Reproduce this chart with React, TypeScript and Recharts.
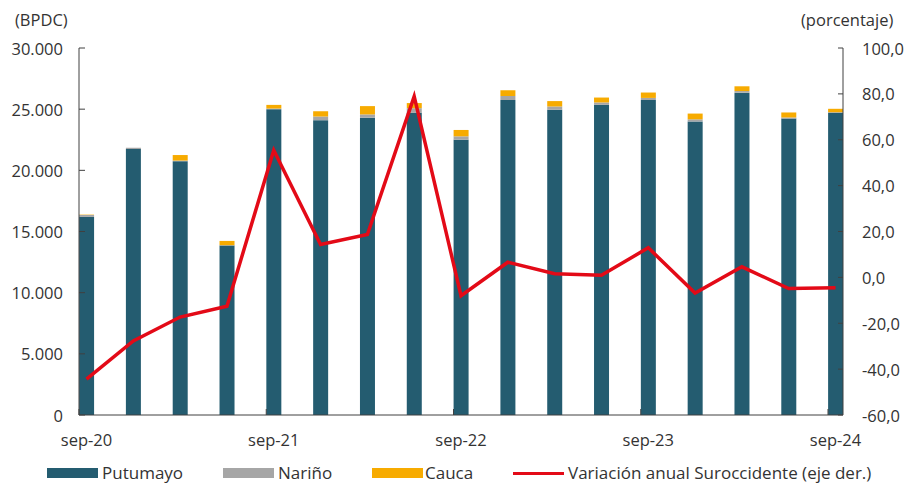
import { ComposedChart, Bar, Line, XAxis, YAxis } from "recharts"

const quarters = [
  "sep-20", "dic-20", "mar-21", "jun-21", "sep-21", "dic-21", "mar-22", "jun-22", "sep-22",
  "dic-22", "mar-23", "jun-23", "sep-23", "dic-23", "mar-24", "jun-24", "sep-24",
]
const putumayo = [16200, 21750, 20750, 13850, 25000, 24100, 24300, 24700, 22500, 25750, 24950, 25350, 25750, 24000, 26350, 24230, 24700]
const narino = [150, 100, 50, 30, 50, 300, 270, 380, 280, 320, 270, 200, 170, 170, 130, 90, 50]
const cauca = [30, 0, 450, 350, 300, 430, 680, 420, 520, 480, 440, 400, 440, 470, 390, 410, 280]
const variacion = [-44.4, -27.7, -17.3, -12.6, 55.4, 14.3, 18.7, 78.9, -8.0, 6.6, 1.6, 0.9, 12.9, -6.8, 4.6, -4.9, -4.5]

const leftTicks = [0, 5000, 10000, 15000, 20000, 25000, 30000]
const rightTicks = [-60, -40, -20, 0, 20, 40, 60, 80, 100]
const yearTicks = [0, 4, 8, 12, 16]

const data = quarters.map((q, i) => ({
  idx: i,
  q,
  putumayo: putumayo[i],
  narino: narino[i],
  cauca: cauca[i],
  variacion: variacion[i],
}))

const FONT = "'Open Sans', sans-serif"
const TEXT = "#333"
const AXIS = "#404040"
const FS = 16.5
const PLOT_LEFT = 79
const PLOT_RIGHT = 843
const PLOT_BOTTOM = 415

const colors = {
  putumayo: "#245C70",
  narino: "#A6A6A6",
  cauca: "#F7AB00",
  line: "#E30A17",
}

const fmtLeft = (v: number) => v.toLocaleString("de-DE")
const fmtRight = (v: number) => v.toFixed(1).replace(".", ",")

const LeftTick = ({ y, payload }: any) => (
  <g>
    <line x1={PLOT_LEFT} x2={PLOT_LEFT + 6} y1={y} y2={y} stroke={AXIS} />
    <text x={63} y={y} textAnchor="end" dominantBaseline="central" fill={TEXT} fontSize={FS} fontFamily={FONT}>
      {fmtLeft(payload.value)}
    </text>
  </g>
)

const RightTick = ({ y, payload }: any) => (
  <g>
    <line x1={PLOT_RIGHT - 5} x2={PLOT_RIGHT} y1={y} y2={y} stroke={AXIS} />
    <text x={862} y={y} textAnchor="start" dominantBaseline="central" fill={TEXT} fontSize={FS} fontFamily={FONT}>
      {fmtRight(payload.value)}
    </text>
  </g>
)

const BottomTick = ({ x, payload }: any) => (
  <g>
    <line x1={x - 7.5} x2={x - 7.5} y1={PLOT_BOTTOM - 6} y2={PLOT_BOTTOM} stroke={AXIS} />
    <text x={x} y={439} textAnchor="middle" dominantBaseline="central" fill={TEXT} fontSize={FS} fontFamily={FONT}>
      {quarters[payload.value]}
    </text>
  </g>
)

const legendItems = [
  { name: "Putumayo", color: colors.putumayo, kind: "box", sx: 47, tx: 102 },
  { name: "Nariño", color: colors.narino, kind: "box", sx: 223, tx: 278 },
  { name: "Cauca", color: colors.cauca, kind: "box", sx: 372, tx: 425 },
  { name: "Variación anual Suroccidente (eje der.)", color: colors.line, kind: "line", sx: 513, tx: 568 },
]

const ChartLegend = () => (
  <div style={{ position: "absolute", left: 0, top: 462, width: 904, height: 22, fontFamily: FONT, fontSize: 17, color: TEXT }}>
    {legendItems.map((it) => (
      <div key={it.name}>
        <span
          style={{
            position: "absolute",
            left: it.sx,
            top: it.kind === "box" ? 6 : 9.5,
            width: 51,
            height: it.kind === "box" ? 10 : 3,
            background: it.color,
          }}
        />
        <span style={{ position: "absolute", left: it.tx, top: -1, whiteSpace: "nowrap" }}>{it.name}</span>
      </div>
    ))}
  </div>
)

export default function App() {
  return (
    <div style={{ position: "absolute", left: 0, top: 0, width: 904, height: 485, background: "#fff" }}>
      <div style={{ position: "absolute", left: 15, top: 8, fontFamily: FONT, fontSize: FS, color: TEXT }}>(BPDC)</div>
      <div style={{ position: "absolute", left: 801, top: 8, fontFamily: FONT, fontSize: FS, color: TEXT }}>(porcentaje)</div>
      <ComposedChart width={904} height={485} data={data} margin={{ top: 48, right: 0, bottom: 40, left: 0 }}>
        <XAxis
          dataKey="idx"
          type="number"
          domain={[-0.16, 16.16]}
          ticks={yearTicks}
          allowDataOverflow
          height={30}
          tickLine={false}
          tickSize={0}
          tick={<BottomTick />}
          axisLine={{ stroke: AXIS }}
          interval={0}
        />
        <YAxis
          yAxisId="left"
          orientation="left"
          width={79}
          domain={[0, 30000]}
          ticks={leftTicks}
          tickLine={false}
          tick={<LeftTick />}
          axisLine={{ stroke: AXIS }}
          interval={0}
        />
        <YAxis
          yAxisId="right"
          orientation="right"
          width={61}
          domain={[-60, 100]}
          ticks={rightTicks}
          tickLine={false}
          tick={<RightTick />}
          axisLine={{ stroke: AXIS }}
          interval={0}
        />
        <Bar yAxisId="left" dataKey="putumayo" name="Putumayo" stackId="a" fill={colors.putumayo} barSize={15} isAnimationActive={false} />
        <Bar yAxisId="left" dataKey="narino" name="Nariño" stackId="a" fill={colors.narino} barSize={15} isAnimationActive={false} />
        <Bar yAxisId="left" dataKey="cauca" name="Cauca" stackId="a" fill={colors.cauca} barSize={15} isAnimationActive={false} />
        <Line
          yAxisId="right"
          dataKey="variacion"
          name="Variación anual Suroccidente (eje der.)"
          stroke={colors.line}
          strokeWidth={3.5}
          dot={false}
          activeDot={false}
          isAnimationActive={false}
        />
      </ComposedChart>
      <ChartLegend />
    </div>
  )
}
